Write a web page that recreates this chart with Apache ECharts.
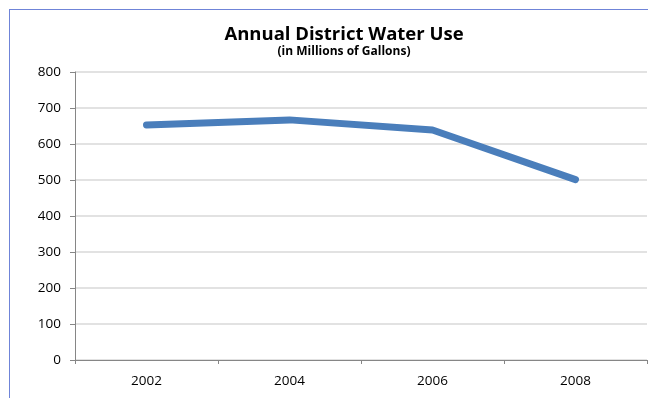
<!DOCTYPE html>
<html>
<head>
<meta charset="utf-8">
<script src="https://cdn.jsdelivr.net/npm/echarts@6/dist/echarts.min.js"></script>
<style>
  html, body { margin: 0; padding: 0; background: #fff; overflow: hidden; }
  #frame { position: absolute; left: 9px; top: 9px; width: 700px; height: 450px; border: 1px solid #6f84d8; }
  #main { position: absolute; left: 0; top: 0; width: 648px; height: 398px; }
</style>
</head>
<body>
<div id="frame"></div>
<div id="main"></div>
<script>
var years = ['2002', '2004', '2006', '2008'];
var waterUse = [653, 667, 639, 501];
var yTicks = [0, 100, 200, 300, 400, 500, 600, 700, 800];

var myChart = echarts.init(document.getElementById('main'));

var font = '"Open Sans", Lato, sans-serif';

var option = {
    animation: false,
    title: {
        text: 'Annual District Water Use',
        subtext: '(in Millions of Gallons)',
        left: 339,
        textAlign: 'center',
        top: 20,
        itemGap: 2,
        textStyle: { fontFamily: font, fontSize: 18.5, fontWeight: 'bold', color: '#000' },
        subtextStyle: { fontFamily: font, fontSize: 12, fontWeight: 'bold', color: '#000' }
    },
    grid: { left: 75, right: 1, top: 72, bottom: 38, containLabel: false },
    xAxis: {
        type: 'category',
        data: years,
        boundaryGap: true,
        axisLine: { lineStyle: { color: '#868686', width: 1 } },
        axisTick: { show: true, length: 4, lineStyle: { color: '#868686' } },
        axisLabel: { fontFamily: font, fontSize: 13.5, color: '#000', margin: 14 }
    },
    yAxis: {
        type: 'value',
        min: yTicks[0],
        max: yTicks[yTicks.length - 1],
        interval: 100,
        axisLine: { show: true, lineStyle: { color: '#868686', width: 1 } },
        axisTick: { show: true, length: 5, lineStyle: { color: '#868686' } },
        axisLabel: { fontFamily: font, fontSize: 13.5, color: '#000', margin: 14 },
        splitLine: { lineStyle: { color: '#d9d9d9', width: 1.5 } }
    },
    series: [{
        name: 'Water Use',
        type: 'line',
        data: waterUse,
        symbol: 'none',
        lineStyle: { color: '#4a7ebb', width: 7, cap: 'round', join: 'round' }
    }]
};

myChart.setOption(option);
</script>
</body>
</html>
